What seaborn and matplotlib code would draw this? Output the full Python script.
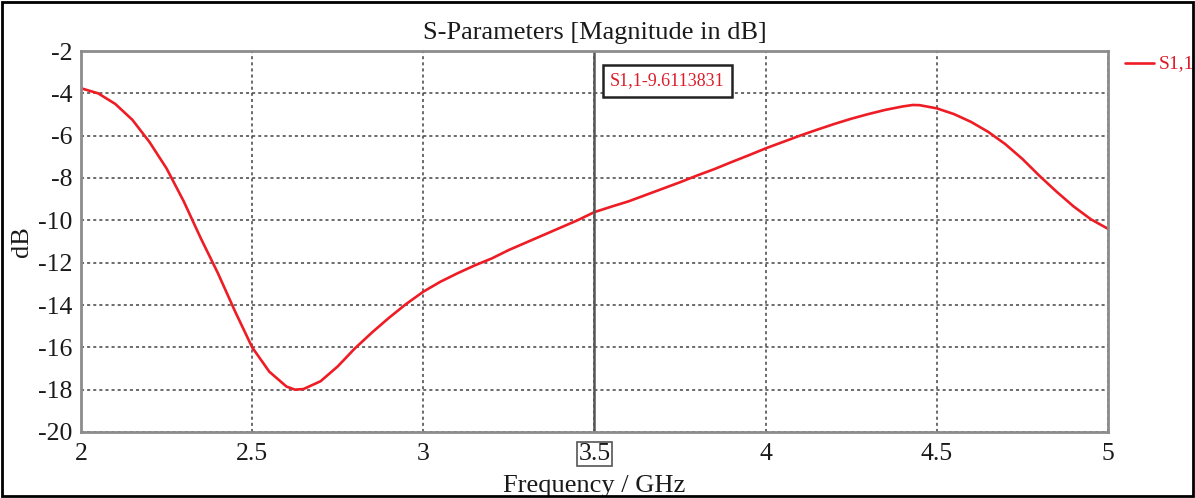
import matplotlib
matplotlib.use("Agg")
import matplotlib.pyplot as plt
import seaborn as sns
import pandas as pd
from matplotlib.patches import Rectangle

freq = [2.0, 2.05, 2.1, 2.15, 2.2, 2.25, 2.3, 2.35, 2.4, 2.45, 2.5, 2.55, 2.6, 2.625, 2.65, 2.7,
        2.75, 2.8, 2.85, 2.9, 2.95, 3.0, 3.05, 3.1, 3.15, 3.2, 3.25, 3.3, 3.35, 3.4, 3.45, 3.5,
        3.55, 3.6, 3.65, 3.7, 3.75, 3.8, 3.85, 3.9, 3.95, 4.0, 4.05, 4.1, 4.15, 4.2, 4.25, 4.3,
        4.35, 4.4, 4.43, 4.45, 4.5, 4.55, 4.6, 4.65, 4.7, 4.75, 4.8, 4.85, 4.9, 4.95, 5.0]
s11 = [-3.76, -4.0, -4.5, -5.25, -6.3, -7.55, -9.1, -10.85, -12.5, -14.3, -16.0, -17.15, -17.85, -18.0, -17.97, -17.6,
       -16.9, -16.05, -15.3, -14.6, -13.95, -13.37, -12.9, -12.5, -12.13, -11.8, -11.4, -11.05, -10.7, -10.35, -10.0, -9.61,
       -9.35, -9.1, -8.8, -8.5, -8.2, -7.88, -7.58, -7.25, -6.93, -6.6, -6.3, -6.0, -5.72, -5.45, -5.2, -4.98,
       -4.78, -4.62, -4.55, -4.56, -4.71, -4.98, -5.35, -5.82, -6.4, -7.1, -7.9, -8.65, -9.35, -9.95, -10.4]
xticks = [2, 2.5, 3, 3.5, 4, 4.5, 5]
xtick_labels = ["2", "2.5", "3", "3.5", "4", "4.5", "5"]
yticks = [-2, -4, -6, -8, -10, -12, -14, -16, -18, -20]
marker_x = 3.5
marker_label = "S1,1-9.6113831"
title = "S-Parameters [Magnitude in dB]"
series_name = "S1,1"

sns.set_theme(style="white")
plt.rcParams['font.family'] = ['Liberation Serif', 'DejaVu Serif']

df = pd.DataFrame({"Frequency / GHz": freq, "dB": s11, "series": series_name})

fig = plt.figure(figsize=(11.95, 4.98), dpi=100)
ax = fig.add_axes([81/1195, 1-432/498, (1108-81)/1195, (432-51)/498])

sns.lineplot(data=df, x="Frequency / GHz", y="dB", hue="series", palette=["#ee1c24"],
             linewidth=1.9, ax=ax, legend=False)

ax.set_xlim(2, 5)
ax.set_ylim(-20, -2)
ax.set_xticks(xticks)
ax.set_xticklabels(xtick_labels)
ax.set_yticks(yticks)
ax.set_yticklabels([str(v) for v in yticks])
ax.tick_params(axis='both', labelsize=18.5, labelcolor="#1a1a1a", length=5, width=1.2,
               direction='out', color="#808080")
ax.tick_params(axis='x', pad=3)
ax.tick_params(axis='y', pad=1)
for lbl in ax.get_xticklabels():
    if lbl.get_text() == "3.5":
        lbl.set_bbox(dict(boxstyle="square,pad=0.05", fc="white", ec="#555555", lw=1.2))

ax.grid(True, color="#444444", linestyle=(0, (2, 2)), linewidth=1.1)
for s in ax.spines.values():
    s.set_color("#8c8c8c")
    s.set_linewidth(2)

ax.set_xlabel("Frequency / GHz", fontsize=19, labelpad=7, color="#1a1a1a")
ax.set_ylabel("dB", fontsize=19, labelpad=4, color="#1a1a1a")
ax.set_title(title, fontsize=19, pad=9, color="#1a1a1a")

ax.axvline(marker_x, color="#555555", linewidth=1.8)
ax.text(marker_x + 0.045, -3.42, marker_label, color="#dd1c2a", fontsize=13, va="center", ha="left",
        bbox=dict(boxstyle="square,pad=0.4", fc="white", ec="#222222", lw=1.8))

# legend outside on the right
ax.plot([1.0165, 1.045], [0.968, 0.968], transform=ax.transAxes, color="#ee1c24", lw=1.9, clip_on=False)
ax.text(1.0495, 0.968, series_name, transform=ax.transAxes, color="#dd1c2a", fontsize=14, va="center", ha="left")

fig.patches.append(Rectangle((2/1195, 2/498), 1191/1195, 494/498, transform=fig.transFigure,
                             fill=False, ec="black", lw=2))

fig.savefig("out.png", dpi=100)
